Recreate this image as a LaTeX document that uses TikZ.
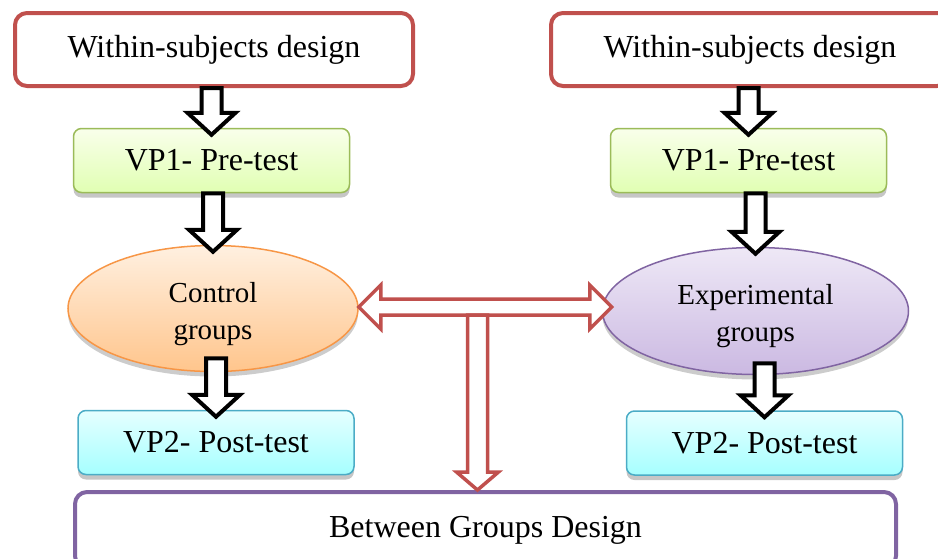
\documentclass[tikz,border=0pt]{standalone}
\usepackage{fontspec}
\setmainfont{Liberation Serif}
\usepackage{tikz}
\usetikzlibrary{positioning, shapes.geometric, shadows, calc}

\definecolor{boxred}{HTML}{C0504D}
\definecolor{boxpurple}{HTML}{8064A2}
\definecolor{greenline}{HTML}{9BBB59}
\definecolor{blueline}{HTML}{4BACC6}
\definecolor{orangeline}{HTML}{F79646}
\definecolor{lilactop}{HTML}{EEE8F6}
\definecolor{lilacbottom}{HTML}{CBB9E2}

% hollow arrow pointing down, x taken from the tip
\newcommand{\hollowdown}[6][blockarrow]{%
  \draw[#1] let \p1=(#2), \p2=(#3) in
    (\x2-#4,\y1) -- (\x2-#4,\y2+#6) -- (\x2-#5,\y2+#6) -- (\x2,\y2)
    -- (\x2+#5,\y2+#6) -- (\x2+#4,\y2+#6) -- (\x2+#4,\y1) -- cycle;}

\begin{document}
\begin{tikzpicture}[x=1pt, y=-1pt,
    withinbox/.style={draw=boxred, line width=4pt, rounded corners=12pt, fill=white, inner sep=0pt, minimum width=398pt, minimum height=73pt, font=\fontsize{32}{36}\selectfont},
    prebox/.style={draw=greenline, line width=1.5pt, rounded corners=8pt, top color=green!6!lime!8, bottom color=green!20!lime!30, inner sep=0pt, minimum width=276pt, minimum height=64pt, drop shadow={shadow xshift=0pt, shadow yshift=-5pt, opacity=0.45}, font=\fontsize{32}{36}\selectfont},
    postbox/.style={draw=blueline, line width=1.5pt, rounded corners=8pt, top color=cyan!10, bottom color=cyan!35, inner sep=0pt, minimum width=276pt, minimum height=64pt, drop shadow={shadow xshift=0pt, shadow yshift=-5pt, opacity=0.45}, font=\fontsize{32}{36}\selectfont},
    group/.style={ellipse, line width=1.5pt, inner sep=0pt, drop shadow={shadow xshift=0pt, shadow yshift=-5pt, opacity=0.4}},
    grouptext/.style={align=center, yshift=-6pt, font=\fontsize{29}{37}\selectfont},
    betweenbox/.style={draw=boxpurple, line width=4pt, rounded corners=12pt, fill=white, inner sep=0pt, minimum width=821pt, minimum height=76pt, font=\fontsize{32}{36}\selectfont},
    blockarrow/.style={draw=black, fill=white, line width=4pt},
    redarrow/.style={draw=boxred, fill=white, line width=3.5pt}]

\useasboundingbox (0,0) rectangle (938,558);

\node[withinbox] (within1) at (214,49.5) {Within-subjects design};
\node[withinbox] (within2) at (750,49.5) {Within-subjects design};

\node[prebox] (pre1) at (211.5,160.5) {VP1- Pre-test};
\node[prebox] (pre2) at (748.5,160.5) {VP1- Pre-test};

\node[group, draw=orangeline, top color=orange!12, bottom color=orange!45, minimum width=290pt, minimum height=126pt, label={[grouptext]center:Control\\groups}] (ctrl) at (213,308.5) {};
\node[group, draw=boxpurple, top color=lilactop, bottom color=lilacbottom, minimum width=306pt, minimum height=127pt, label={[grouptext, yshift=1pt]center:Experimental\\groups}] (exp) at (755.5,311) {};

\node[postbox] (post1) at (216,442.5) {VP2- Post-test};
\node[postbox] (post2) at (764.5,443) {VP2- Post-test};

\node[betweenbox] (between) at (485.5,530) {Between Groups Design};

% black arrows
\hollowdown{within1.south}{[yshift=-7pt]pre1.north}{10}{24}{22}
\hollowdown{pre1.south}{[yshift=-7pt]ctrl.north}{10}{24}{22}
\hollowdown{[yshift=14pt]ctrl.south}{[yshift=-7pt]post1.north}{10}{24}{22}
\hollowdown{within2.south}{[yshift=-7pt]pre2.north}{10}{24}{22}
\hollowdown{pre2.south}{[yshift=-7pt]exp.north}{10}{24}{22}
\hollowdown{[yshift=12pt]exp.south}{[yshift=-7pt]post2.north}{10}{24}{22}

% red arrows
\draw[redarrow] let \p1=([yshift=1.5pt]ctrl.east), \p2=([xshift=10pt]exp.west) in
    (\x1,\y1) -- (\x1+22,\y1+22) -- (\x1+22,\y1+8) -- (\x2-22,\y1+8) -- (\x2-22,\y1+22)
    -- (\x2,\y1) -- (\x2-22,\y1-22) -- (\x2-22,\y1-8) -- (\x1+22,\y1-8) -- (\x1+22,\y1-22) -- cycle;
\coordinate (split) at (477.5,315);
\hollowdown[redarrow]{split}{[xshift=-8pt]between.north}{10}{21}{18}
\end{tikzpicture}
\end{document}
